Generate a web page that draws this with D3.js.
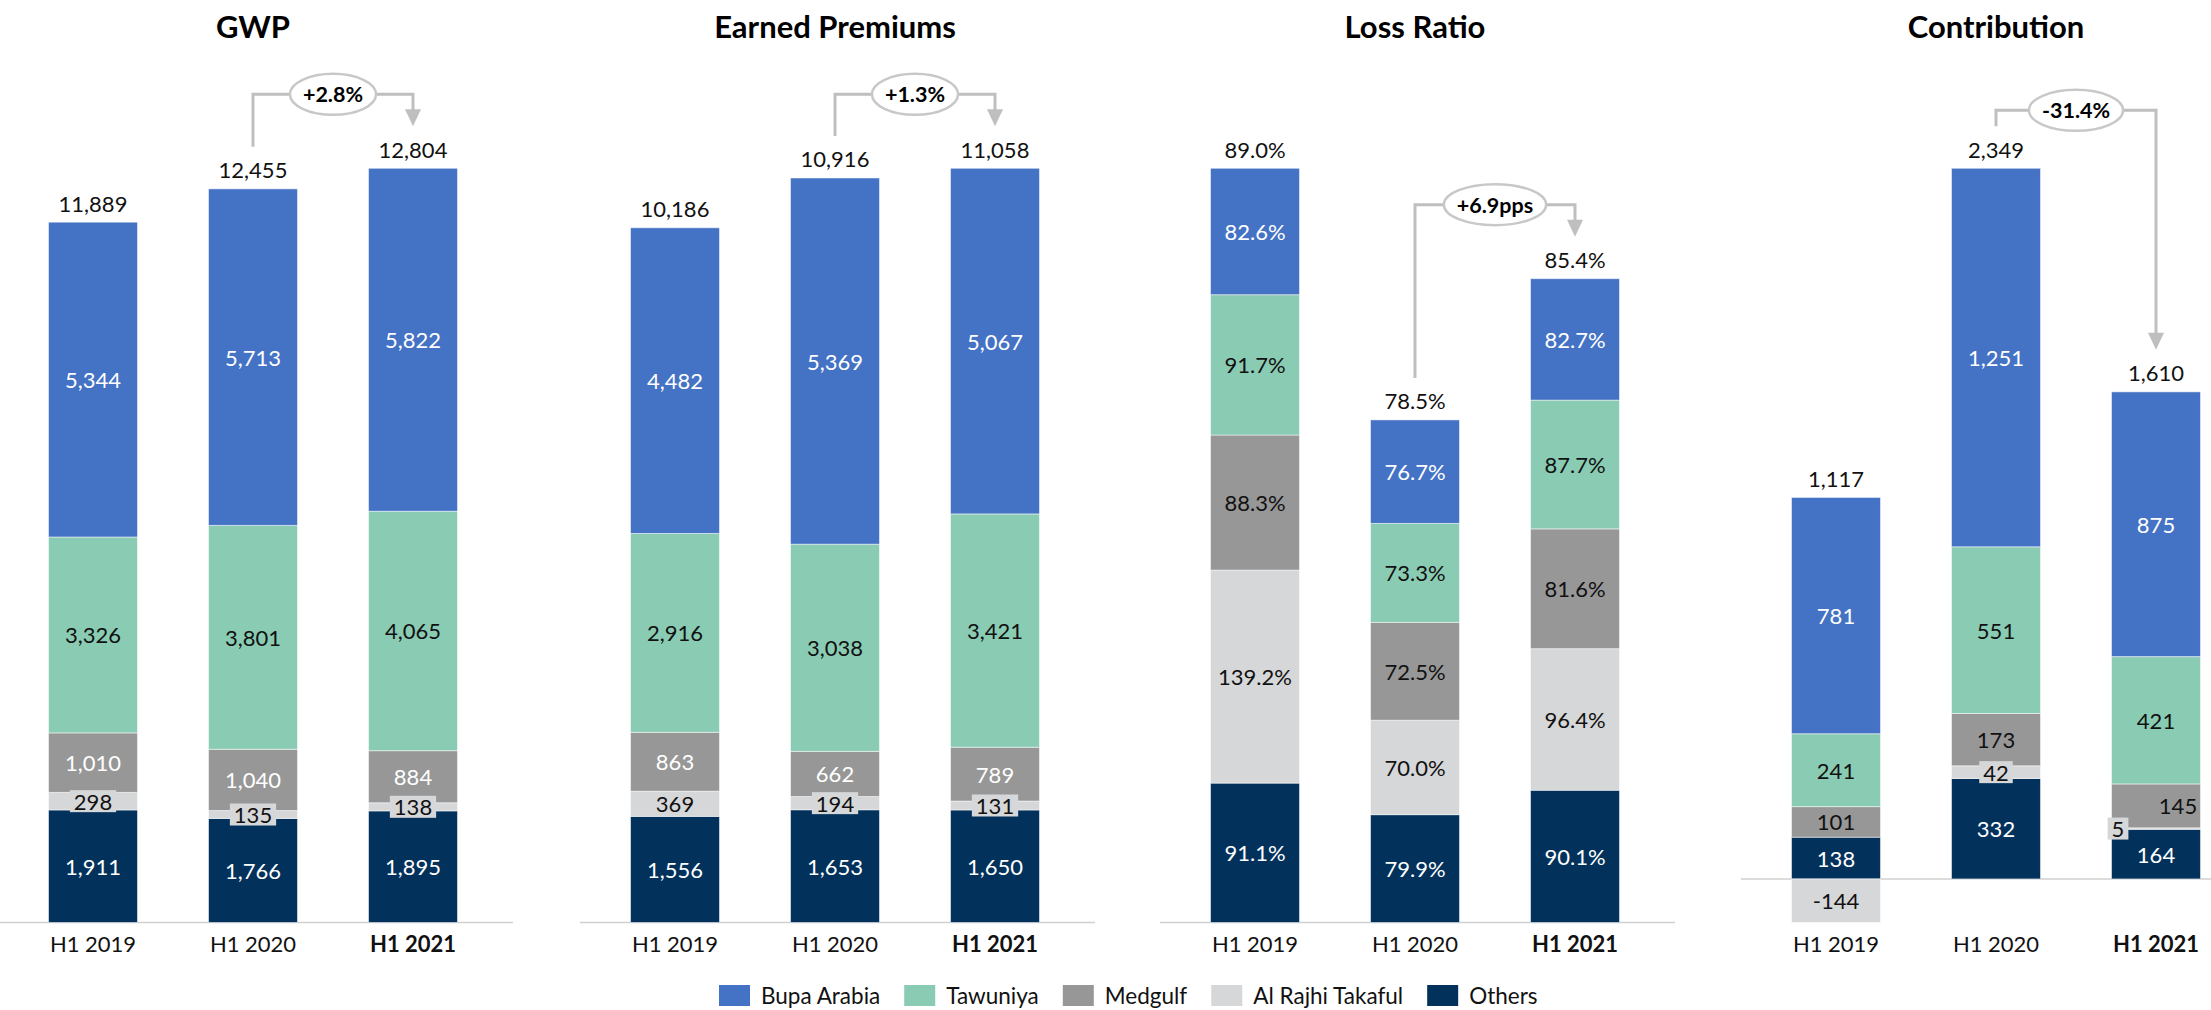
<!DOCTYPE html>
<html><head><meta charset="utf-8">
<script src="https://cdn.jsdelivr.net/npm/d3@7"></script>
<style>
html,body{margin:0;padding:0;background:#fff;}
svg{display:block;font-family:Lato,"Open Sans",sans-serif;}
</style></head><body>
<svg id="chart" width="2211" height="1010"></svg>
<script>
// ---------- data ----------
const periods = ["H1 2019", "H1 2020", "H1 2021"];
const companies = ["Bupa Arabia", "Tawuniya", "Medgulf", "Al Rajhi Takaful", "Others"];
const panelTitles = ["GWP", "Earned Premiums", "Loss Ratio", "Contribution"];
const changeLabels = ["+2.8%", "+1.3%", "+6.9pps", "-31.4%"];

const gwpBupa = [5344, 5713, 5822];
const gwpTawuniya = [3326, 3801, 4065];
const gwpMedgulf = [1010, 1040, 884];
const gwpAlRajhi = [298, 135, 138];
const gwpOthers = [1911, 1766, 1895];
const gwpTotals = [11889, 12455, 12804];

const epBupa = [4482, 5369, 5067];
const epTawuniya = [2916, 3038, 3421];
const epMedgulf = [863, 662, 789];
const epAlRajhi = [369, 194, 131];
const epOthers = [1556, 1653, 1650];
const epTotals = [10186, 10916, 11058];

const lrBupa = [82.6, 76.7, 82.7];
const lrTawuniya = [91.7, 73.3, 87.7];
const lrMedgulf = [88.3, 72.5, 81.6];
const lrAlRajhi = [139.2, 70.0, 96.4];
const lrOthers = [91.1, 79.9, 90.1];
const lrTotals = [89.0, 78.5, 85.4];

const cBupa = [781, 1251, 875];
const cTawuniya = [241, 551, 421];
const cMedgulf = [101, 173, 145];
const cAlRajhi = [-144, 42, 5];
const cOthers = [138, 332, 164];
const cTotals = [1117, 2349, 1610];

// ---------- styles ----------
const colors = {"Bupa Arabia": "#4472C4", "Tawuniya": "#8ACBB3", "Medgulf": "#979797",
                "Al Rajhi Takaful": "#D6D7D9", "Others": "#02325C"};
const loc = d3.formatLocale({decimal: ".", thousands: ",", grouping: [3], currency: ["", ""], minus: "-"});
const fmtInt = loc.format(",");
const fmtPct = v => loc.format(".1f")(v) + "%";

const panels = [
  {title: panelTitles[0], series: [gwpBupa, gwpTawuniya, gwpMedgulf, gwpAlRajhi, gwpOthers], totals: gwpTotals,
   x0: 13, fmt: fmtInt, medText: "#fff", change: changeLabels[0], weighted: false, gap: 74},
  {title: panelTitles[1], series: [epBupa, epTawuniya, epMedgulf, epAlRajhi, epOthers], totals: epTotals,
   x0: 595, fmt: fmtInt, medText: "#fff", change: changeLabels[1], weighted: false, gap: 74},
  {title: panelTitles[2], series: [lrBupa, lrTawuniya, lrMedgulf, lrAlRajhi, lrOthers], totals: lrTotals,
   x0: 1175, fmt: fmtPct, medText: "#111", change: changeLabels[2], weighted: true, gap: 74},
  {title: panelTitles[3], series: [cBupa, cTawuniya, cMedgulf, cAlRajhi, cOthers], totals: cTotals,
   x0: 1756, fmt: fmtInt, medText: "#111", change: changeLabels[3], weighted: false, gap: 58}
];
// label nudges (panel, company, bar) -> dx
const nudges = {"3|Al Rajhi Takaful|2": -38, "3|Medgulf|2": 22};

const svg = d3.select("#chart");
const yBase = 922.5, yTop = 168.3;
const labelSize = 22;

panels.forEach((p, pi) => {
  const g = svg.append("g");
  const x = d3.scaleBand().domain(periods).range([p.x0, p.x0 + 480]).paddingInner(0.444).paddingOuter(0.222);
  const bw = x.bandwidth();
  const rows = periods.map((per, i) => {
    const r = {period: per, idx: i};
    companies.forEach((c, ci) => {
      r[c] = p.weighted ? p.series[ci][i] * p.totals[i] : p.series[ci][i];
      r["_" + c] = p.series[ci][i];
    });
    return r;
  });
  const keys = companies.slice().reverse();
  const stacked = d3.stack().keys(keys).offset(d3.stackOffsetDiverging)(rows);
  const maxTop = d3.max(stacked, s => d3.max(s, d => d[1]));
  const minBot = Math.min(0, d3.min(stacked, s => d3.min(s, d => d[0])));
  const y = d3.scaleLinear().domain([minBot, maxTop]).range([yBase, yTop]);
  const tops = rows.map((r, i) => y(d3.max(stacked, s => s[i][1])));

  // axis line
  g.append("line").attr("x1", p.x0 - 15).attr("x2", Math.min(2211, p.x0 + 500))
    .attr("y1", y(0)).attr("y2", y(0)).attr("stroke", "#D0D0D0").attr("stroke-width", 1.5);

  // bars
  stacked.forEach(s => {
    g.append("g").selectAll("rect").data(s).join("rect")
      .attr("x", d => x(d.data.period)).attr("width", bw)
      .attr("y", d => y(d[1])).attr("height", d => Math.max(0, y(d[0]) - y(d[1])))
      .attr("fill", colors[s.key]).attr("stroke", "#fff").attr("stroke-opacity", 0.5).attr("stroke-width", 1);
  });

  // segment labels
  stacked.forEach(s => {
    const key = s.key;
    s.forEach((d, i) => {
      const v = d.data["_" + key];
      const h = y(d[0]) - y(d[1]);
      const cx = x(d.data.period) + bw / 2 + (nudges[pi + "|" + key + "|" + i] || 0);
      const cy = (y(d[0]) + y(d[1])) / 2;
      let fill = "#111";
      if (key === "Bupa Arabia" || key === "Others") fill = "#fff";
      if (key === "Medgulf") fill = p.medText;
      const t = g.append("text").attr("x", cx).attr("y", cy).attr("text-anchor", "middle")
        .attr("dominant-baseline", "central").attr("font-size", labelSize).attr("fill", fill)
        .text(p.fmt(v));
      if (key === "Al Rajhi Takaful" && h < 20) {
        const w = t.node().getComputedTextLength();
        g.insert("rect", () => t.node()).attr("x", cx - w / 2 - 4).attr("y", cy - 11)
          .attr("width", w + 8).attr("height", 22).attr("fill", colors[key]);
      }
    });
  });

  // totals
  g.selectAll("text.total").data(rows).join("text").attr("class", "total")
    .attr("x", d => x(d.period) + bw / 2).attr("y", (d, i) => tops[i] - 19)
    .attr("text-anchor", "middle").attr("dominant-baseline", "central")
    .attr("font-size", labelSize).attr("fill", "#111")
    .text((d, i) => p.fmt(p.totals[i]));

  // category labels
  g.selectAll("text.cat").data(periods).join("text").attr("class", "cat")
    .attr("x", d => x(d) + bw / 2).attr("y", 943).attr("text-anchor", "middle")
    .attr("dominant-baseline", "central").attr("font-size", labelSize).attr("fill", "#111")
    .attr("font-weight", (d, i) => i === 2 ? 700 : 400).text(d => d);

  // title
  g.append("text").attr("x", x(periods[1]) + bw / 2).attr("y", 38).attr("text-anchor", "middle")
    .attr("font-size", 31).attr("font-weight", 700).attr("fill", "#000").text(p.title);

  // change annotation
  const c2 = x(periods[1]) + bw / 2, c3 = x(periods[2]) + bw / 2;
  const yb = Math.min(tops[1], tops[2]) - p.gap;
  const startY = tops[1] - 42, tipY = tops[2] - 42;
  const lc = "#BFBFBF";
  g.append("path").attr("d", `M${c2},${startY}V${yb}H${c3}V${tipY - 15}`)
    .attr("fill", "none").attr("stroke", lc).attr("stroke-width", 3);
  g.append("path").attr("d", `M${c3 - 8},${tipY - 17}L${c3 + 8},${tipY - 17}L${c3},${tipY}Z`).attr("fill", lc);
  const ell = g.append("ellipse").attr("cx", (c2 + c3) / 2).attr("cy", yb).attr("ry", 20.5)
    .attr("fill", "#fff").attr("stroke", "#C8C8C8").attr("stroke-width", 2.5);
  const ct = g.append("text").attr("x", (c2 + c3) / 2).attr("y", yb).attr("text-anchor", "middle")
    .attr("dominant-baseline", "central").attr("font-size", 21.5).attr("font-weight", 700).attr("fill", "#000")
    .text(p.change);
  ell.attr("rx", ct.node().getComputedTextLength() / 2 + 13);
});

// legend
const lg = svg.append("g");
let lx = 719;
companies.forEach(c => {
  lg.append("rect").attr("x", lx).attr("y", 985).attr("width", 31).attr("height", 21).attr("fill", colors[c]);
  const t = lg.append("text").attr("x", lx + 42).attr("y", 995.5).attr("dominant-baseline", "central")
    .attr("font-size", 22.5).attr("fill", "#111").text(c);
  lx += 42 + t.node().getComputedTextLength() + 24;
});
</script>
</body></html>
